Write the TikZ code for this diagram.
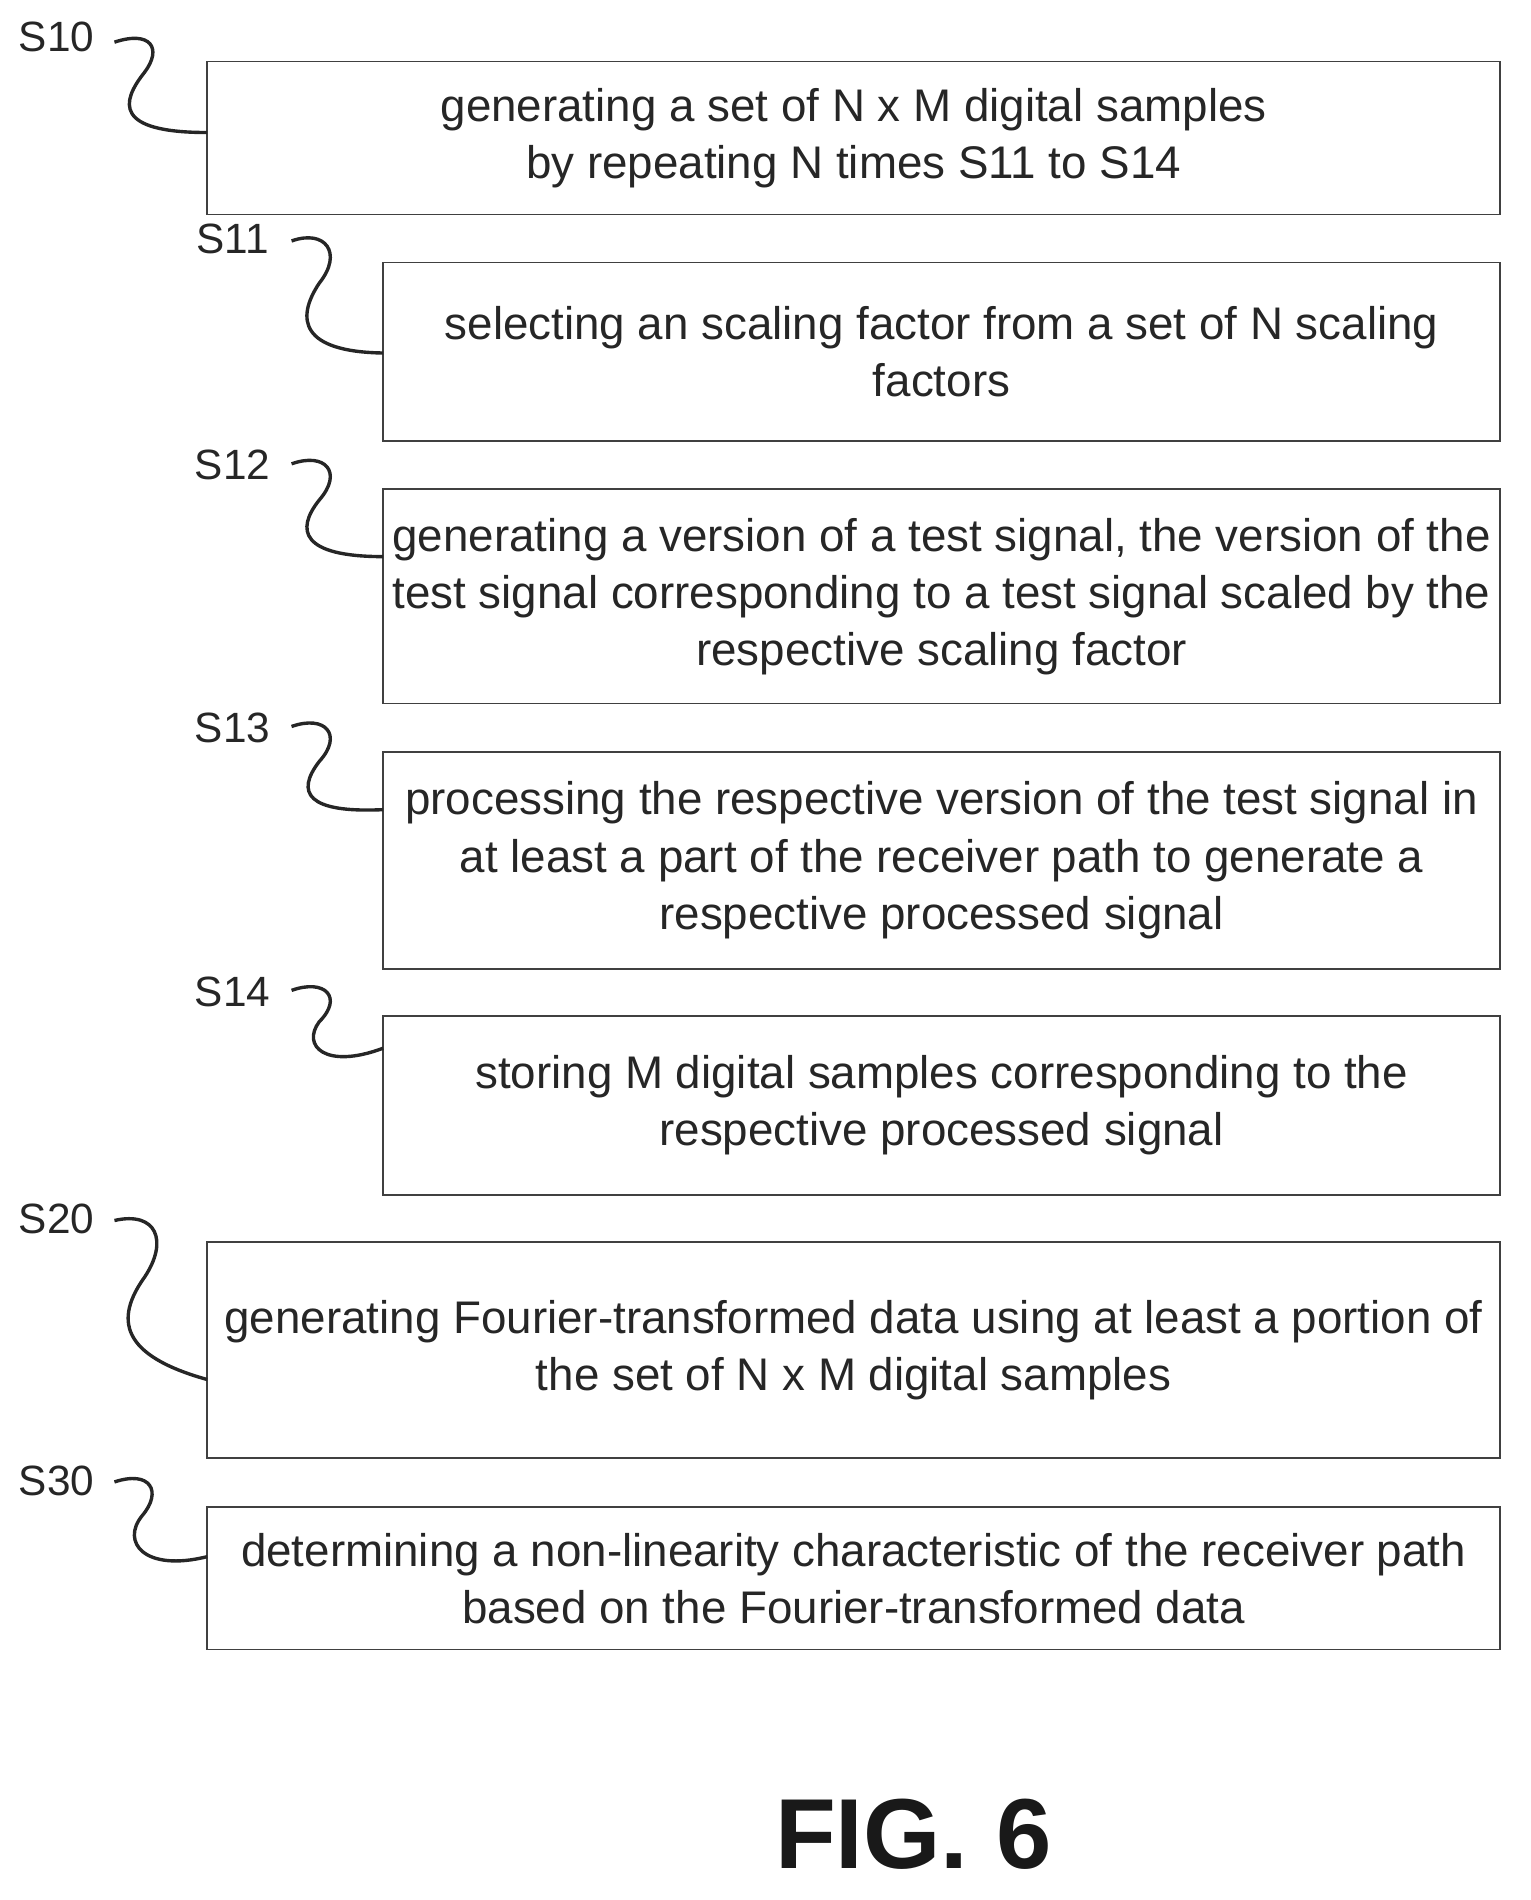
\documentclass[tikz,border=0pt]{standalone}
\usepackage{fontspec}
\setmainfont{Liberation Sans}
\begin{document}
\begin{tikzpicture}[x=0.02cm,y=-0.02cm,
 box/.style={draw=black!75,line width=0.8pt,inner sep=0pt,align=center,font=\fontsize{21.6}{27}\selectfont,text=black!85},
 lab/.style={font=\fontsize{20}{22}\selectfont,text=black!85,inner sep=1pt},
 sq/.style={draw=black!85,line width=1.6pt}]
\useasboundingbox (0,0) rectangle (1270,1577);
\node[box,minimum width=1073*0.02cm,minimum height=127*0.02cm] (b10) at (708.5,114.5) {generating a set of N x M digital samples\\by repeating N times S11 to S14};
\node[box,minimum width=927*0.02cm,minimum height=148*0.02cm] (b11) at (781.5,292) {selecting an scaling factor from a set of N scaling\\factors};
\node[box,minimum width=927*0.02cm,minimum height=178*0.02cm] (b12) at (781.5,495) {generating a version of a test signal, the version of the\\test signal corresponding to a test signal scaled by the\\respective scaling factor};
\node[box,minimum width=927*0.02cm,minimum height=180*0.02cm] (b13) at (781.5,714) {processing the respective version of the test signal in\\at least a part of the receiver path to generate a\\respective processed signal};
\node[box,minimum width=927*0.02cm,minimum height=149*0.02cm] (b14) at (781.5,917.5) {storing M digital samples corresponding to the\\respective processed signal};
\node[box,minimum width=1073*0.02cm,minimum height=179*0.02cm] (b20) at (708.5,1120.5) {generating Fourier-transformed data using at least a portion of\\the set of N x M digital samples};
\node[box,minimum width=1073*0.02cm,minimum height=118*0.02cm] (b30) at (708.5,1310) {determining a non-linearity characteristic of the receiver path\\based on the Fourier-transformed data};
\node[lab] (l10) at (47,31) {S10};
\node[lab] (l11) at (193,198) {S11};
\node[lab] (l12) at (193,386) {S12};
\node[lab] (l13) at (193,604) {S13};
\node[lab] (l14) at (193,823) {S14};
\node[lab] (l20) at (47,1012) {S20};
\node[lab] (l30) at (47,1229) {S30};
\node[font=\bfseries\fontsize{47}{52}\selectfont,text=black!90] (fig) at (758,1522) {FIG. 6};
\coordinate (e10) at (172,110);
\coordinate (e11) at (318,293);
\coordinate (e12) at (318,462);
\coordinate (e13) at (318,672);
\coordinate (e14) at (318,870);
\coordinate (e20) at (172,1145);
\coordinate (e30) at (172,1292);
\draw[sq] (95,35) .. controls (125,25) and (135,40) .. (120,60) .. controls (100,85) and (95,110) .. (e10);
\draw[sq] (242,200) .. controls (270,190) and (285,210) .. (265,235) .. controls (245,265) and (250,292) .. (e11);
\draw[sq] (242,385) .. controls (270,375) and (285,392) .. (265,415) .. controls (245,440) and (250,462) .. (e12);
\draw[sq] (242,603) .. controls (270,593) and (285,610) .. (265,632) .. controls (245,658) and (255,675) .. (e13);
\draw[sq] (242,822) .. controls (270,812) and (285,828) .. (265,848) .. controls (250,868) and (270,888) .. (e14);
\draw[sq] (95,1013) .. controls (130,1005) and (140,1030) .. (120,1060) .. controls (95,1095) and (100,1125) .. (e20);
\draw[sq] (95,1230) .. controls (125,1220) and (135,1238) .. (118,1258) .. controls (100,1280) and (120,1305) .. (e30);
\end{tikzpicture}
\end{document}
